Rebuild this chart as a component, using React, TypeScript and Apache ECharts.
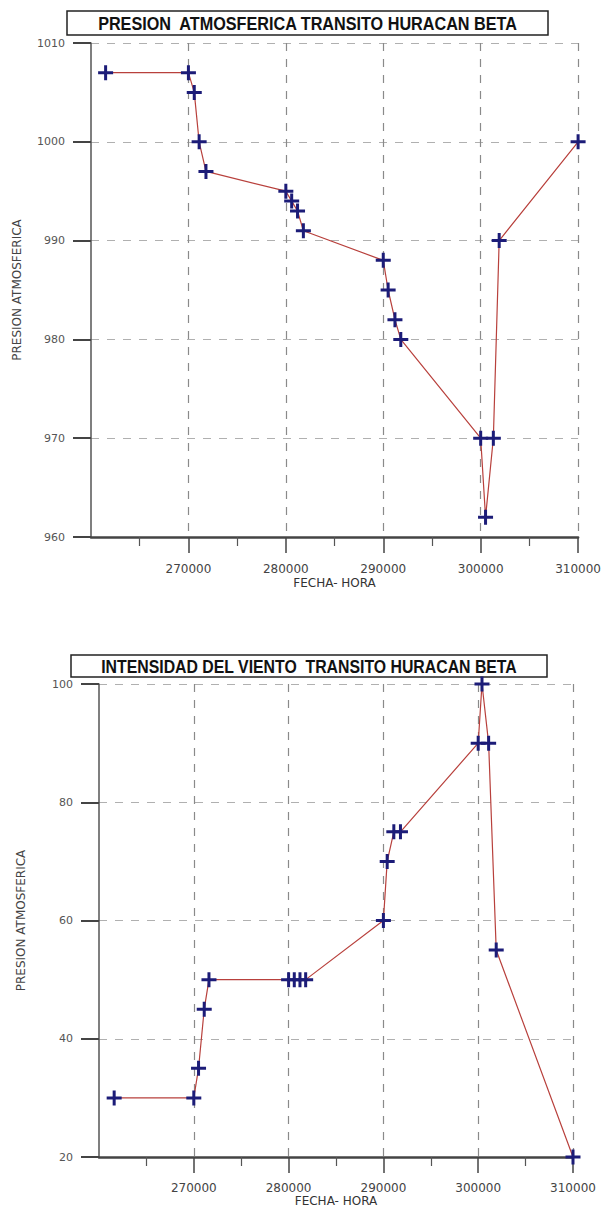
import React, { useEffect, useRef } from "react";
import * as echarts from "echarts";

const X_TICKS = [270000, 280000, 290000, 300000, 310000];

const TOP_TITLE = "PRESION  ATMOSFERICA TRANSITO HURACAN BETA";
const TOP_X = [261500, 270000, 270600, 271100, 271800, 280000, 280600, 281200, 281800, 290000, 290500, 291200, 291800, 300000, 300500, 301300, 301900, 310000];
const TOP_PRESSURE = [1007, 1007, 1005, 1000, 997, 995, 994, 993, 991, 988, 985, 982, 980, 970, 962, 970, 990, 1000];

const BOTTOM_TITLE = "INTENSIDAD DEL VIENTO  TRANSITO HURACAN BETA";
const BOTTOM_X = [261600, 270000, 270500, 271100, 271600, 280000, 280600, 281200, 281800, 290000, 290400, 291100, 291800, 300000, 300400, 301100, 301900, 310000];
const BOTTOM_WIND = [30, 30, 35, 45, 50, 50, 50, 50, 50, 60, 70, 75, 75, 90, 100, 90, 55, 20];

const X_NAME = "FECHA- HORA";
const Y_NAME = "PRESION ATMOSFERICA";

const PLUS = "path://M4,0 H6 V4 H10 V6 H6 V10 H4 V6 H0 V4 H4 Z";
const NAVY = "#1c1c78";
const LINE = "#b8403c";
const FONT = "'DejaVu Sans', sans-serif";

function xAxisCfg(gridIndex: number, nameGap: number, labelMargin: number) {
  return {
    type: "value",
    gridIndex,
    min: 260000,
    max: 310000,
    interval: 10000,
    name: X_NAME,
    nameLocation: "middle",
    nameGap,
    nameTextStyle: { fontFamily: FONT, fontSize: 12, color: "#333" },
    axisLine: { show: true, onZero: false, lineStyle: { color: "#444", width: 2.5 } },
    axisTick: { show: true, length: 16, customValues: X_TICKS, lineStyle: { color: "#444", width: 1.5 } },
    minorTick: { show: true, splitNumber: 2, length: 9, lineStyle: { color: "#555", width: 1.2 } },
    axisLabel: {
      customValues: X_TICKS,
      margin: labelMargin,
      fontFamily: FONT,
      fontSize: 12,
      color: "#444",
      formatter: (v: number) => String(v),
    },
    splitLine: { show: true, lineStyle: { color: "#8a8a8a", type: [8, 8], width: 1.2 } },
  };
}

function yAxisCfg(gridIndex: number, min: number, max: number, interval: number, nameGap: number) {
  return {
    type: "value",
    gridIndex,
    min,
    max,
    interval,
    name: Y_NAME,
    nameLocation: "middle",
    nameGap,
    nameRotate: 90,
    nameTextStyle: { fontFamily: FONT, fontSize: 12, color: "#444" },
    axisLine: { show: true, lineStyle: { color: "#555", width: 1.5 } },
    axisTick: { show: true, length: 18, lineStyle: { color: "#444", width: 2 } },
    axisLabel: {
      margin: 26,
      fontFamily: FONT,
      fontSize: 11,
      color: "#555",
      formatter: (v: number) => String(v),
    },
    splitLine: { show: true, lineStyle: { color: "#b0b0b0", type: [8, 8], width: 1.2 } },
  };
}

function titleBox(text: string, x: number, y: number, w: number, h: number, scaleX: number) {
  return {
    type: "group",
    children: [
      {
        type: "rect",
        shape: { x, y, width: w, height: h },
        style: { fill: "#fff", stroke: "#222", lineWidth: 1.5 },
      },
      {
        type: "text",
        x: x + w / 2,
        y: y + h / 2 + 1,
        scaleX,
        style: {
          text,
          fontFamily: "'Liberation Sans', Arial, sans-serif",
          fontWeight: "bold",
          fontSize: 18,
          fill: "#111",
          textAlign: "center",
          textVerticalAlign: "middle",
        },
      },
    ],
  };
}

export default function App() {
  const ref = useRef<HTMLDivElement>(null);
  useEffect(() => {
    if (!ref.current) return;
    const chart = echarts.init(ref.current, null, { renderer: "svg" });
    chart.setOption({
      animation: false,
      backgroundColor: "#fff",
      grid: [
        { left: 91, right: 23, top: 43, height: 494 },
        { left: 99, right: 31, top: 684, height: 473 },
      ],
      xAxis: [xAxisCfg(0, 40, 26), xAxisCfg(1, 38, 25)],
      yAxis: [yAxisCfg(0, 960, 1010, 10, 68), yAxisCfg(1, 20, 100, 20, 72)],
      series: [
        {
          type: "line",
          xAxisIndex: 0,
          yAxisIndex: 0,
          data: TOP_X.map((x, i) => [x, TOP_PRESSURE[i]]),
          symbol: PLUS,
          symbolSize: 15,
          showAllSymbol: true,
          itemStyle: { color: NAVY },
          lineStyle: { color: LINE, width: 1.2 },
        },
        {
          type: "line",
          xAxisIndex: 1,
          yAxisIndex: 1,
          data: BOTTOM_X.map((x, i) => [x, BOTTOM_WIND[i]]),
          symbol: PLUS,
          symbolSize: 15,
          showAllSymbol: true,
          itemStyle: { color: NAVY },
          lineStyle: { color: LINE, width: 1.2 },
        },
      ],
      graphic: [
        titleBox(TOP_TITLE, 67, 11, 481, 24, 0.9),
        titleBox(BOTTOM_TITLE, 71, 655, 476, 22, 0.88),
      ],
    });
    return () => chart.dispose();
  }, []);
  return (
    <div
      ref={ref}
      style={{ position: "absolute", left: 0, top: 0, width: 604, height: 1210 }}
    />
  );
}
